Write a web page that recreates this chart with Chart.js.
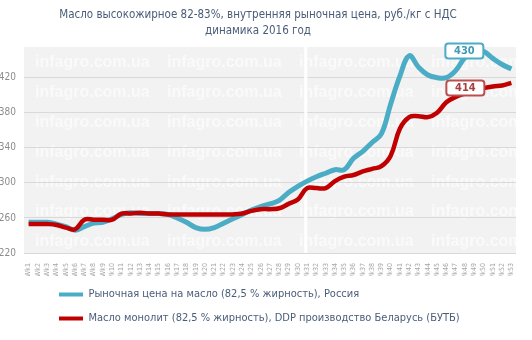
<!DOCTYPE html>
<html>
<head>
<meta charset="utf-8">
<script src="https://cdn.jsdelivr.net/npm/chart.js@4.4.1/dist/chart.umd.min.js"></script>
<style>
    html, body { margin: 0; padding: 0; background: #ffffff; }
</style>
</head>
<body>
<canvas id="butter_chart" width="532" height="340"></canvas>
<script>
const weeks = ['Wk1', 'Wk2', 'Wk3', 'Wk4', 'Wk5', 'Wk6', 'Wk7', 'Wk8', 'Wk9', 'Wk10',
    'Wk11', 'Wk12', 'Wk13', 'Wk14', 'Wk15', 'Wk16', 'Wk17', 'Wk18', 'Wk19', 'Wk20',
    'Wk21', 'Wk22', 'Wk23', 'Wk24', 'Wk25', 'Wk26', 'Wk27', 'Wk28', 'Wk29', 'Wk30',
    'Wk31', 'Wk32', 'Wk33', 'Wk34', 'Wk35', 'Wk36', 'Wk37', 'Wk38', 'Wk39', 'Wk40',
    'Wk41', 'Wk42', 'Wk43', 'Wk44', 'Wk45', 'Wk46', 'Wk47', 'Wk48', 'Wk49', 'Wk50',
    'Wk51', 'Wk52', 'Wk53'];

// Рыночная цена на масло, Россия
const russiaPrice = [255, 255, 255, 253, 250, 246, 250, 254, 255, 259,
    264, 266, 265, 265, 265, 264, 260, 255, 249, 247,
    249, 254, 259, 264, 269, 273, 276, 280, 289, 296,
    302, 307, 311, 315, 315, 328, 336, 346, 356, 390,
    422, 445, 432, 423, 420, 420, 428, 443, 451, 450,
    442, 435, 430];

// Масло монолит, DDP Беларусь (БУТБ)
const belarusPrice = [253, 253, 253, 252, 249, 247, 258, 258, 258, 258,
    265, 265, 266, 265, 265, 264, 264, 264, 264, 264,
    264, 264, 264, 265, 268, 270, 270, 271, 276, 281,
    294, 294, 294, 302, 307, 309, 313, 316, 319, 331,
    362, 375, 376, 375, 380, 392, 398, 402, 405, 408,
    410, 411, 414];

const yTicks = [220, 260, 300, 340, 380, 420];

const titleLines = ['Масло высокожирное 82-83%, внутренняя рыночная цена, руб./кг с НДС', 'динамика 2016 год'];
const seriesNames = ['Рыночная цена на масло (82,5 % жирность), Россия',
    'Масло монолит (82,5 % жирность), DDP производство Беларусь (БУТБ)'];

const fontFam = '"DejaVu Sans Condensed", "Liberation Sans", sans-serif';
const blue = '#4bacc6';
const red = '#c00000';

// серый фон, водяные знаки и белая линия посередине
const plotBack = {
    id: 'plotBack',
    beforeDraw(chart) {
        const {ctx, chartArea: a} = chart;
        ctx.save();
        ctx.fillStyle = '#f2f2f2';
        ctx.fillRect(a.left, a.top, a.right - a.left, a.bottom - a.top);
        ctx.beginPath();
        ctx.rect(a.left, a.top, a.right - a.left, a.bottom - a.top);
        ctx.clip();
        ctx.fillStyle = 'rgba(255,255,255,0.6)';
        ctx.font = 'bold 16px "Liberation Sans", sans-serif';
        ctx.textBaseline = 'middle';
        for (let y = a.top + 16; y < a.bottom; y += 29.8) {
            for (let x = a.left + 11; x < a.right; x += 132) {
                ctx.fillText('infagro.com.ua', x, y);
            }
        }
        ctx.restore();
    },
    beforeDatasetsDraw(chart) {
        const {ctx, chartArea: a} = chart;
        const x = chart.scales.x.getPixelForValue(29.85);
        ctx.save();
        ctx.strokeStyle = '#ffffff';
        ctx.lineWidth = 3;
        ctx.beginPath();
        ctx.moveTo(x, a.top);
        ctx.lineTo(x, a.bottom);
        ctx.stroke();
        ctx.restore();
    }
};

// подписи последних значений в рамках
const endLabels = {
    id: 'endLabels',
    afterDatasetsDraw(chart) {
        const ctx = chart.ctx;
        const boxes = [
            {ds: 0, values: russiaPrice, border: blue, color: '#3f9ab3', dx: -47, dy: -18},
            {ds: 1, values: belarusPrice, border: '#b9504f', color: '#a8403f', dx: -46, dy: 5}
        ];
        boxes.forEach(b => {
            const meta = chart.getDatasetMeta(b.ds);
            const pt = meta.data[meta.data.length - 1];
            const cx = pt.x + b.dx;
            const cy = pt.y + b.dy;
            ctx.save();
            ctx.beginPath();
            ctx.roundRect(cx - 19, cy - 7.5, 38, 15, 3);
            ctx.fillStyle = '#ffffff';
            ctx.fill();
            ctx.lineWidth = 2;
            ctx.strokeStyle = b.border;
            ctx.stroke();
            ctx.fillStyle = b.color;
            ctx.font = 'bold 11px ' + fontFam;
            ctx.textAlign = 'center';
            ctx.textBaseline = 'middle';
            ctx.fillText(String(b.values[b.values.length - 1]), cx, cy + 0.5);
            ctx.restore();
        });
    }
};

// легенда прижата влево
const legendShift = {
    id: 'legendShift',
    afterLayout(chart) {
        chart.legend.left = 46;
    }
};

Chart.defaults.font.family = fontFam;

const dash = document.getElementById('butter_chart');

new Chart(dash, {
    type: 'line',
    data: {
        labels: weeks,
        datasets: [{
            label: seriesNames[0],
            data: russiaPrice,
            borderColor: blue,
            backgroundColor: blue,
            borderWidth: 5,
            pointRadius: 0,
            tension: 0.4,
            order: 2
        }, {
            label: seriesNames[1],
            data: belarusPrice,
            borderColor: red,
            backgroundColor: red,
            borderWidth: 4.5,
            pointRadius: 0,
            tension: 0.4,
            order: 1
        }]
    },
    options: {
        responsive: false,
        animation: false,
        layout: {
            padding: {left: 0, right: 16, top: 0, bottom: 6}
        },
        plugins: {
            title: {
                display: true,
                text: titleLines,
                color: '#4a5d78',
                font: {size: 11.5, weight: 'normal', lineHeight: 1.39},
                padding: {top: 7, bottom: 8}
            },
            legend: {
                position: 'bottom',
                align: 'start',
                labels: {
                    boxWidth: 24,
                    boxHeight: 4,
                    padding: 13,
                    color: '#4a5d78',
                    font: {size: 11},
                    sort: (a, b) => a.datasetIndex - b.datasetIndex,
                    generateLabels(chart) {
                        const items = Chart.defaults.plugins.legend.labels.generateLabels(chart);
                        items.forEach(it => { it.lineWidth = 0; });
                        return items;
                    }
                }
            },
            tooltip: {enabled: false}
        },
        scales: {
            x: {
                offset: true,
                grid: {display: false},
                border: {display: false},
                ticks: {
                    autoSkip: false,
                    maxRotation: 90,
                    minRotation: 90,
                    padding: 2,
                    color: '#a6a6a6',
                    font: {size: 7}
                },
                afterFit(scale) {
                    scale.height = 23;
                }
            },
            y: {
                min: 220,
                max: 455,
                grid: {color: '#d9d9d9', drawTicks: false},
                border: {display: false},
                ticks: {
                    color: '#8c8c8c',
                    padding: 8,
                    font: {size: 10}
                },
                afterBuildTicks(scale) {
                    scale.ticks = yTicks.map(v => ({value: v}));
                },
                afterFit(scale) {
                    scale.width = 24;
                }
            }
        }
    },
    plugins: [plotBack, endLabels, legendShift]
});
</script>
</body>
</html>
